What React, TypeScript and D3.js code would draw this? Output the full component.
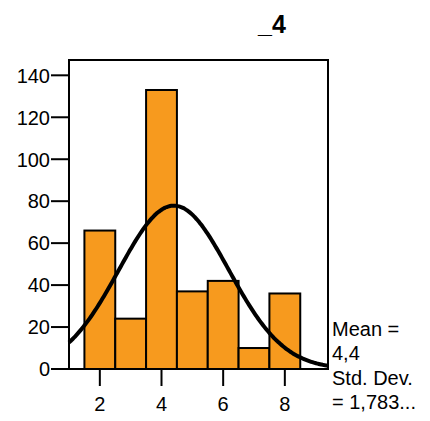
import React from "react";
import * as d3 from "d3";

const binCenters = [2, 3, 4, 5, 6, 7, 8];
const counts = [66, 24, 133, 37, 42, 10, 36];
const yTicks = [0, 20, 40, 60, 80, 100, 120, 140];
const xTicks = [2, 4, 6, 8];
const meanVal = 4.4;
const sdVal = 1.783;
const legendLines = ["Mean =", "4,4", "Std. Dev.", "= 1,783..."];
const titleText = "_4";

export default function App() {
  const W = 430, H = 421;
  const left = 69, right = 328, top = 60, bottom = 369;
  const x = d3.scaleLinear().domain([1, 9.4]).range([left, right]);
  const y = d3.scaleLinear().domain([0, 147.3]).range([bottom, top]);
  const N = d3.sum(counts);
  const pdf = (v: number) => (N * 1) / (sdVal * Math.sqrt(2 * Math.PI)) * Math.exp(-0.5 * ((v - meanVal) / sdVal) ** 2);
  const pts = d3.range(0, 201).map((i) => 1 + (8.4 * i) / 200);
  const line = d3.line<number>().x((v) => x(v)).y((v) => y(pdf(v))).curve(d3.curveBasis);
  const font = "Arial, 'Liberation Sans', sans-serif";
  return (
    <svg width={W} height={H} style={{ position: "absolute", left: 0, top: 0 }} fontFamily={font}>
      <rect x={0} y={0} width={W} height={H} fill="#fff" />
      <text x={272} y={33} textAnchor="middle" fontSize={25} fontWeight="bold">{titleText}</text>
      <rect x={left} y={top} width={right - left} height={bottom - top} fill="none" stroke="#000" strokeWidth={2} />
      {binCenters.map((c, i) => (
        <rect key={i} x={x(c - 0.5)} y={y(counts[i])} width={x(c + 0.5) - x(c - 0.5)} height={y(0) - y(counts[i])}
          fill="#F79A1E" stroke="#000" strokeWidth={2} />
      ))}
      <path d={line(pts) || ""} fill="none" stroke="#000" strokeWidth={4} />
      {yTicks.map((t) => (
        <g key={t}>
          <line x1={left - 18} x2={left} y1={y(t)} y2={y(t)} stroke="#000" strokeWidth={2} />
          <text x={left - 19} y={y(t) + 7.3} textAnchor="end" fontSize={20}>{t}</text>
        </g>
      ))}
      {xTicks.map((t) => (
        <g key={t}>
          <line x1={x(t)} x2={x(t)} y1={bottom} y2={bottom + 17} stroke="#000" strokeWidth={2} />
          <text x={x(t)} y={411} textAnchor="middle" fontSize={20}>{t}</text>
        </g>
      ))}
      {legendLines.map((s, i) => (
        <text key={i} x={332} y={336 + i * 24.3} fontSize={20}>{s}</text>
      ))}
    </svg>
  );
}
